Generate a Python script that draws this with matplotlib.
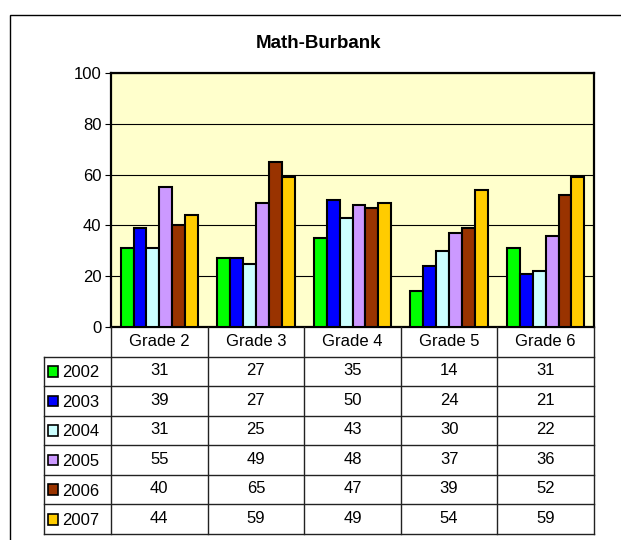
import matplotlib
matplotlib.use("Agg")
import matplotlib.pyplot as plt
from matplotlib.patches import Rectangle

plt.rcParams['font.family'] = ['Liberation Sans', 'DejaVu Sans']

# donnees du graphique
grades = ["Grade 2", "Grade 3", "Grade 4", "Grade 5", "Grade 6"]
years = ["2002", "2003", "2004", "2005", "2006", "2007"]
s2002 = [31, 27, 35, 14, 31]
s2003 = [39, 27, 50, 24, 21]
s2004 = [31, 25, 43, 30, 22]
s2005 = [55, 49, 48, 37, 36]
s2006 = [40, 65, 47, 39, 52]
s2007 = [44, 59, 49, 54, 59]
series = [s2002, s2003, s2004, s2005, s2006, s2007]
colors = ["#00FF00", "#0000FF", "#CCFFFF", "#CC99FF", "#993300", "#FFCC00"]

W, H = 621, 540
fig = plt.figure(figsize=(W / 100, H / 100), dpi=100)

def box(x0, y0, x1, y1):
    # pixels (y depuis le haut) -> coordonnees figure
    return [x0 / W, 1 - y1 / H, (x1 - x0) / W, (y1 - y0) / H]

# cadre exterieur
fig.patches.append(Rectangle((10 / W, -0.5), 2, 0.5 + 525 / H, transform=fig.transFigure,
                             fill=False, edgecolor="black", lw=1))

fig.text(318 / W, 1 - 43 / H, "Math-Burbank", ha="center", va="center",
         fontsize=13.5, fontweight="bold")

fs = 12
# zone du graphique
ax = fig.add_axes(box(111, 73, 594, 327))
ax.set_facecolor("#FFFFCC")
n = len(series)
w = 0.8 / n
x = list(range(len(grades)))
for j, (vals, c) in enumerate(zip(series, colors)):
    pos = [i + (j - (n - 1) / 2) * w for i in x]
    ax.bar(pos, vals, width=w, color=c, edgecolor="black", linewidth=1.5, zorder=3)
ax.set_xlim(-0.5, len(grades) - 0.5)
ax.set_ylim(0, 100)
ax.set_yticks([0, 20, 40, 60, 80, 100])
ax.set_xticks([])
ax.grid(axis="y", color="black", lw=0.8, zorder=1)
ax.tick_params(axis="y", length=4, width=0.8, labelsize=fs, pad=3)
for sp in ax.spines.values():
    sp.set_linewidth(1.6)

# tableau de donnees
leg_w = (111 - 44) / ((594 - 111) / len(grades))
tab = fig.add_axes(box(44, 327, 594, 534))
tab.set_xlim(-0.5 - leg_w, len(grades) - 0.5)
tab.set_ylim(len(years) + 1, 0)
tab.axis("off")
lc = "#222222"
for i in range(len(grades) + 1):
    tab.plot([i - 0.5, i - 0.5], [0, len(years) + 1], color=lc, lw=1, clip_on=False)
tab.plot([-0.5 - leg_w, -0.5 - leg_w], [1, len(years) + 1], color=lc, lw=1, clip_on=False)
for r in range(1, len(years) + 2):
    tab.plot([-0.5 - leg_w, len(grades) - 0.5], [r, r], color=lc, lw=1, clip_on=False)
for i, g in enumerate(grades):
    tab.text(i, 0.5, g, ha="center", va="center", fontsize=fs)
for r, (yr, vals, c) in enumerate(zip(years, series, colors)):
    yy = r + 1.5
    tab.add_patch(Rectangle((-0.5 - leg_w + 0.045, yy - 0.18), 0.1, 0.36, facecolor=c,
                            edgecolor="black", lw=1.2, clip_on=False))
    tab.text(-0.5 - leg_w + 0.19, yy + 0.05, yr, ha="left", va="center", fontsize=fs)
    for i, v in enumerate(vals):
        tab.text(i, yy - 0.03, str(v), ha="center", va="center", fontsize=fs)

fig.savefig("out.png", dpi=100)
